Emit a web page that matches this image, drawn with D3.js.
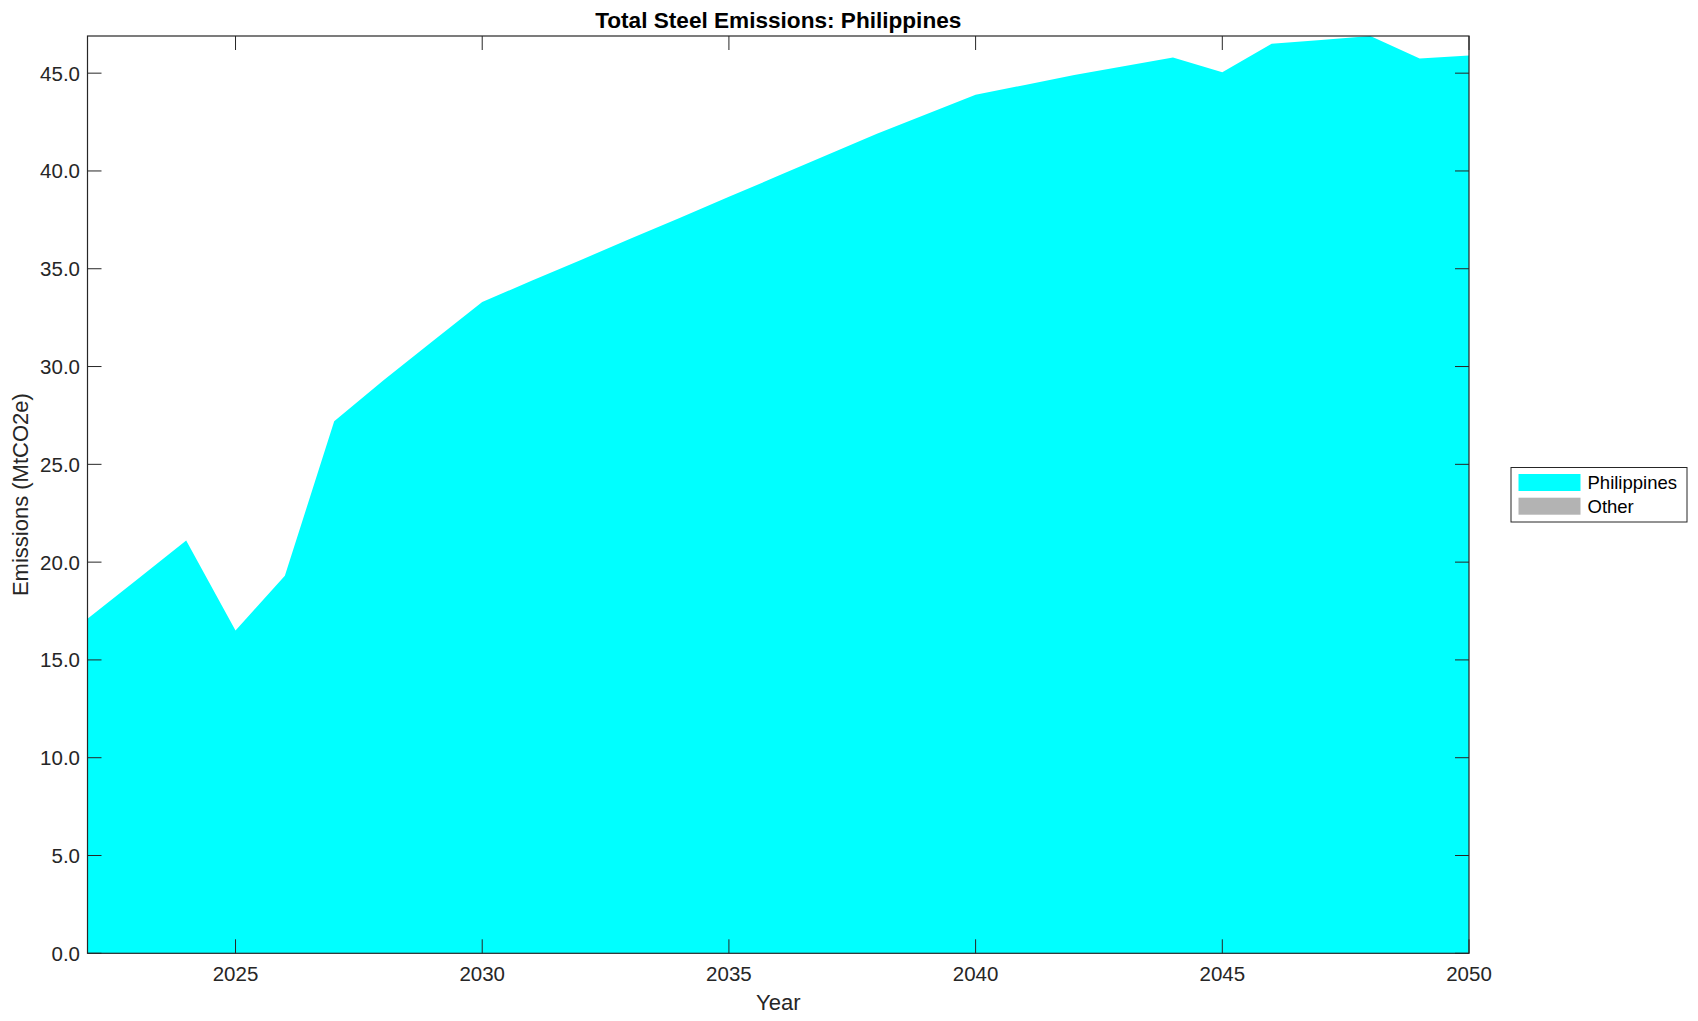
<!DOCTYPE html>
<html><head><meta charset="utf-8">
<script src="https://cdn.jsdelivr.net/npm/d3@7"></script>
<style>
body{margin:0;background:#fff;}
svg{display:block;font-family:"Liberation Sans",Arial,Helvetica,sans-serif;}
</style></head>
<body><svg id="c" width="1698" height="1021"></svg>
<script>
const years = [2022,2023,2024,2025,2026,2027,2028,2029,2030,2031,2032,2033,2034,2035,2036,2037,2038,2039,2040,2041,2042,2043,2044,2045,2046,2047,2048,2049,2050];
const philippines = [17.1,19.1,21.1,16.5,19.3,27.2,29.3,31.3,33.3,34.38,35.45,36.53,37.6,38.68,39.75,40.83,41.9,42.9,43.9,44.4,44.9,45.35,45.8,45.05,46.5,46.7,46.9,45.75,45.9];
const other = years.map(()=>0);
const seriesNames = ["Philippines","Other"];
const seriesColors = ["#00ffff","#b3b3b3"];
const xTicks = [2025,2030,2035,2040,2045,2050];
const yTicks = [0,5,10,15,20,25,30,35,40,45];

const svg = d3.select("#c");
const L=87.5, R=1469, T=36, B=953.3;
const ink="#262626";
const rows = years.map((y,i)=>({year:y, Philippines:philippines[i], Other:other[i]}));
const stacked = d3.stack().keys(seriesNames)(rows);
const x = d3.scaleLinear().domain([years[0], years[years.length-1]]).range([L,R]);
const ymax = d3.max(stacked[stacked.length-1], d=>d[1]);
const y = d3.scaleLinear().domain([0, ymax]).range([B,T]);

const area = d3.area().x(d=>x(d.data.year)).y0(d=>y(d[0])).y1(d=>y(d[1]));
svg.append("g").selectAll("path").data(stacked).join("path")
  .attr("d", area).attr("fill", (d,i)=>seriesColors[i]);

// ticks
const tl=14;
const g = svg.append("g").attr("stroke",ink).attr("stroke-width",1);
xTicks.forEach(t=>{
  const xx=x(t);
  g.append("line").attr("x1",xx).attr("x2",xx).attr("y1",B).attr("y2",B-tl);
  g.append("line").attr("x1",xx).attr("x2",xx).attr("y1",T).attr("y2",T+tl);
});
yTicks.forEach(t=>{
  const yy=y(t);
  g.append("line").attr("x1",L).attr("x2",L+tl).attr("y1",yy).attr("y2",yy);
  g.append("line").attr("x1",R).attr("x2",R-tl).attr("y1",yy).attr("y2",yy);
});
svg.append("rect").attr("x",L).attr("y",T).attr("width",R-L).attr("height",B-T)
  .attr("fill","none").attr("stroke",ink).attr("stroke-width",1.2);

// tick labels
svg.append("g").selectAll("text").data(xTicks).join("text")
  .attr("x",d=>x(d)).attr("y",981).attr("text-anchor","middle")
  .attr("font-size",20.5).attr("fill",ink).text(d=>d);
svg.append("g").selectAll("text").data(yTicks).join("text")
  .attr("x",80).attr("y",d=>y(d)).attr("dy","0.36em").attr("text-anchor","end")
  .attr("font-size",20.5).attr("fill",ink).text(d=>d3.format(".1f")(d));

// axis labels
svg.append("text").attr("x",(L+R)/2).attr("y",1010).attr("text-anchor","middle")
  .attr("font-size",22).attr("fill",ink).text("Year");
svg.append("text").attr("transform",`translate(28,${(T+B)/2}) rotate(-90)`).attr("text-anchor","middle")
  .attr("font-size",22).attr("fill",ink).text("Emissions (MtCO2e)");
svg.append("text").attr("x",(L+R)/2).attr("y",27.5).attr("text-anchor","middle")
  .attr("font-size",22.6).attr("font-weight","bold").attr("fill","#000").text("Total Steel Emissions: Philippines");

// legend
const lg = svg.append("g");
lg.append("rect").attr("x",1511).attr("y",467.5).attr("width",176).attr("height",54.5)
  .attr("fill","#fff").attr("stroke",ink).attr("stroke-width",1);
seriesNames.forEach((n,i)=>{
  lg.append("rect").attr("x",1518.5).attr("y",474+i*23.7).attr("width",62).attr("height",17).attr("fill",seriesColors[i]);
  lg.append("text").attr("x",1587.5).attr("y",489+i*23.7).attr("font-size",18.5).attr("fill","#000").text(n);
});
</script></body></html>
